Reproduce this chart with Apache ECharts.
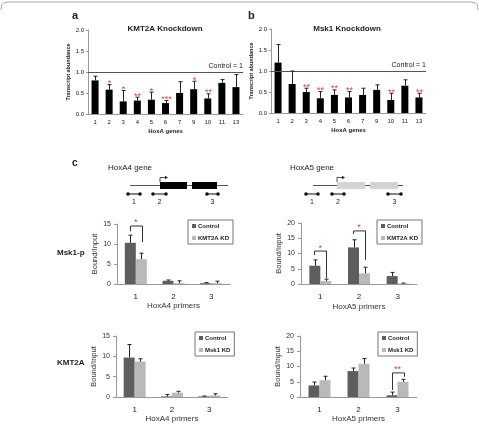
<!DOCTYPE html>
<html>
<head>
<meta charset="utf-8">
<script src="https://cdn.jsdelivr.net/npm/echarts@6/dist/echarts.min.js"></script>
<style>
  html, body { margin: 0; padding: 0; background: #fff; }
  #chart { width: 479px; height: 425px; }
</style>
</head>
<body>
<div id="chart"></div>
<script>
// panels a / b : HoxA genes
const hoxGenes = ['1', '2', '3', '4', '5', '6', '7', '9', '10', '11', '13'];
const kmtKdVal = [0.80, 0.58, 0.30, 0.32, 0.34, 0.26, 0.50, 0.59, 0.37, 0.74, 0.64];
const kmtKdErr = [0.10, 0.12, 0.26, 0.08, 0.18, 0.06, 0.27, 0.19, 0.11, 0.08, 0.30];
const kmtKdStars = ['', '*', '*', '**', '*', '***', '', '*', '**', '', ''];
const mskKdVal = [1.20, 0.69, 0.50, 0.35, 0.43, 0.37, 0.43, 0.55, 0.31, 0.65, 0.37];
const mskKdErr = [0.43, 0.31, 0.09, 0.16, 0.12, 0.14, 0.16, 0.12, 0.16, 0.14, 0.10];
const mskKdStars = ['', '', '**', '**', '**', '**', '', '', '**', '', '**'];

// panel c : ChIP primers
const primers = ['1', '2', '3'];
const p4Ctrl = [10.3, 0.8, 0.2];   const p4CtrlErr = [1.9, 0.2, 0.15];
const p4Kd = [6.2, 0.2, 0.2];      const p4KdErr = [1.5, 0.6, 0.5];
const p5Ctrl = [6.0, 12.0, 2.6];   const p5CtrlErr = [1.9, 2.5, 1.2];
const p5Kd = [1.0, 3.5, 0.2];      const p5KdErr = [0.6, 2.0, 0.1];
const k4Ctrl = [9.7, 0.15, 0.15];  const k4CtrlErr = [3.2, 0.45, 0.1];
const k4Kd = [8.7, 1.05, 0.4];     const k4KdErr = [0.7, 0.35, 0.4];
const k5Ctrl = [3.8, 8.5, 0.55];   const k5CtrlErr = [1.1, 1.0, 1.05];
const k5Kd = [5.5, 10.9, 5.0];     const k5KdErr = [1.3, 1.7, 0.8];

// brackets: [primer index, top, left leg end, right leg end]
const p4Sig = [[0, 14.5, 13.2, 10.5]];  const p4SigStars = ['*'];
const p5Sig = [[0, 10.8, 9.5, 2.0], [1, 17.4, 16.4, 7.9]];  const p5SigStars = ['*', '*'];
const k5Sig = [[2, 7.9, 2.3, 6.6]];     const k5SigStars = ['**'];

const ctrlColor = '#5e5e5e';
const kdColor = '#b9b9b9';
const starColor = '#e8403a';
const font = 'Liberation Sans';

var myChart = echarts.init(document.getElementById('chart'));

function errData(vals, errs) {
  return vals.map((v, i) => [i, v + errs[i], v]);
}

function errRender(offset, capW, stars) {
  return function (params, api) {
    let i = api.value(0);
    let top = api.coord([i, api.value(1)]);
    let base = api.coord([i, api.value(2)]);
    let x = Math.round(top[0] + offset) + 0.5;
    let children = [
      { type: 'line', shape: { x1: x, y1: base[1], x2: x, y2: top[1] }, style: { stroke: '#222', lineWidth: 1 } },
      { type: 'line', shape: { x1: x - capW / 2, y1: top[1], x2: x + capW / 2, y2: top[1] }, style: { stroke: '#222', lineWidth: 1 } }
    ];
    if (stars && stars[params.dataIndex]) {
      children.push({
        type: 'text', x: x, y: top[1] - 1,
        style: { text: stars[params.dataIndex], fill: starColor, fontSize: 9, fontFamily: font, align: 'center', verticalAlign: 'middle' }
      });
    }
    return { type: 'group', children: children };
  };
}

function bracketRender(stars) {
  return function (params, api) {
    let cat = api.value(0);
    let cx = api.coord([cat, 0])[0];
    let yTop = api.coord([cat, api.value(1)])[1];
    let yL = api.coord([cat, api.value(2)])[1];
    let yR = api.coord([cat, api.value(3)])[1];
    let xl = Math.round(cx - 6) + 0.5;
    let xr = Math.round(cx + 6) + 0.5;
    return {
      type: 'group',
      children: [
        { type: 'polyline', shape: { points: [[xl, yL], [xl, yTop], [xr, yTop], [xr, yR]] }, style: { stroke: '#333', lineWidth: 1, fill: null } },
        { type: 'text', x: cx, y: yTop - 3, style: { text: stars[params.dataIndex], fill: starColor, fontSize: 9, fontFamily: font, align: 'center', verticalAlign: 'middle' } }
      ]
    };
  };
}

function geneXAxis(gi) {
  return {
    gridIndex: gi, type: 'category', data: hoxGenes,
    axisLine: { lineStyle: { color: '#999' } },
    axisTick: { length: 2, lineStyle: { color: '#999' } },
    axisLabel: { fontSize: 6, color: '#222', margin: 5, interval: 0 },
    name: 'HoxA genes', nameLocation: 'middle', nameGap: 14,
    nameTextStyle: { fontSize: 6, fontWeight: 'bold', color: '#222' }
  };
}
function geneYAxis(gi) {
  return {
    gridIndex: gi, type: 'value', min: 0, max: 2, interval: 0.5,
    axisLine: { show: true, lineStyle: { color: '#999' } },
    axisTick: { show: true, length: 2, lineStyle: { color: '#999' } },
    splitLine: { show: false },
    axisLabel: { fontSize: 6, color: '#222', margin: 4, formatter: (v) => v.toFixed(1) },
    name: 'Transcript abundance', nameLocation: 'middle', nameGap: 13,
    nameTextStyle: { fontSize: 5.5, fontWeight: 'bold', color: '#222' }
  };
}
function primerXAxis(gi, name, gap) {
  return {
    gridIndex: gi, type: 'category', data: primers,
    axisLine: { lineStyle: { color: '#999' } },
    axisTick: { length: 3, lineStyle: { color: '#999' } },
    axisLabel: { fontSize: 8, color: '#222', margin: 9 },
    name: name, nameLocation: 'middle', nameGap: gap,
    nameTextStyle: { fontSize: 8, color: '#333' }
  };
}
function primerYAxis(gi, max) {
  return {
    gridIndex: gi, type: 'value', min: 0, max: max, interval: 5,
    axisLine: { show: true, lineStyle: { color: '#999' } },
    axisTick: { show: true, length: 3, lineStyle: { color: '#999' } },
    splitLine: { show: false },
    axisLabel: { fontSize: 7, color: '#333', margin: 6 },
    name: 'Bound/Input', nameLocation: 'middle', nameGap: 17,
    nameTextStyle: { fontSize: 7.5, color: '#333' }
  };
}

function controlLine() {
  return {
    silent: true, symbol: ['none', 'none'],
    data: [{ yAxis: 1 }],
    lineStyle: { color: '#555', type: 'solid', width: 1 },
    label: { position: 'insideEndTop', formatter: 'Control = 1', fontSize: 7, color: '#222', distance: [0, 2] }
  };
}

function legendAt(left, top, kdName) {
  return {
    left: left, top: top, orient: 'vertical', icon: 'rect',
    data: ['Control', kdName],
    itemWidth: 4, itemHeight: 4, itemGap: 6,
    borderColor: '#777', borderWidth: 1, padding: [3, 4, 3, 4],
    textStyle: { fontSize: 6, fontWeight: 'bold', color: '#222', padding: [0, 0, 0, -3] }
  };
}

function pairSeries(gi, ctrl, ctrlErr, kd, kdErr, kdName) {
  return [
    { type: 'bar', name: 'Control', xAxisIndex: gi, yAxisIndex: gi, data: ctrl, barWidth: 11, barGap: '0%', itemStyle: { color: ctrlColor } },
    { type: 'bar', name: kdName, xAxisIndex: gi, yAxisIndex: gi, data: kd, barWidth: 11, barGap: '0%', itemStyle: { color: kdColor } },
    { type: 'custom', xAxisIndex: gi, yAxisIndex: gi, data: errData(ctrl, ctrlErr), renderItem: errRender(-5.5, 4), z: 5 },
    { type: 'custom', xAxisIndex: gi, yAxisIndex: gi, data: errData(kd, kdErr), renderItem: errRender(5.5, 4), z: 5 }
  ];
}

function txt(x, y, s, size, weight, align) {
  return {
    type: 'text', x: x, y: y,
    style: { text: s, fontSize: size, fontWeight: weight || 'normal', fontFamily: font, fill: '#222', align: align || 'left', verticalAlign: 'middle' }
  };
}
function ln(x1, y1, x2, y2, color) {
  return { type: 'line', shape: { x1: x1, y1: y1, x2: x2, y2: y2 }, style: { stroke: color || '#444', lineWidth: 1 } };
}
function primerMark(x1, x2, y, label) {
  return [
    ln(x1, y, x2, y, '#111'),
    { type: 'circle', shape: { cx: x1, cy: y, r: 1.8 }, style: { fill: '#111' } },
    { type: 'circle', shape: { cx: x2, cy: y, r: 1.8 }, style: { fill: '#111' } },
    txt((x1 + x2) / 2, y + 8, label, 7, 'normal', 'center')
  ];
}
function gene(x1, x2, boxes, color, arrowX) {
  let els = [ln(x1, 185.5, x2, 185.5, '#555')];
  boxes.forEach((b) => els.push({ type: 'rect', shape: { x: b[0], y: 182, width: b[1] - b[0], height: 7 }, style: { fill: color } }));
  els.push({ type: 'polyline', shape: { points: [[arrowX, 182], [arrowX, 177.5], [arrowX + 6, 177.5]] }, style: { stroke: '#222', lineWidth: 0.8, fill: null } });
  els.push({ type: 'polygon', shape: { points: [[arrowX + 5, 175.8], [arrowX + 8, 177.5], [arrowX + 5, 179.2]] }, style: { fill: '#222' } });
  return els;
}

var graphics = [
  { type: 'polyline', shape: { points: [[1, 10], [1.5, 5], [3.5, 3], [8, 2], [471, 2], [475.5, 3], [477.5, 5], [478, 10]] }, style: { stroke: '#aaa', lineWidth: 1, fill: null } },
  txt(72, 16, 'a', 11, 'bold'),
  txt(248, 16, 'b', 11, 'bold'),
  txt(72, 163, 'c', 10, 'bold'),
  txt(165, 29, 'KMT2A Knockdown', 8, 'bold', 'center'),
  txt(347, 29, 'Msk1 Knockdown', 8, 'bold', 'center'),
  txt(108, 168, 'HoxA4 gene', 8, 'normal'),
  txt(290, 168, 'HoxA5 gene', 8, 'normal'),
  txt(57, 253, 'Msk1-p', 8, 'bold'),
  txt(57, 363, 'KMT2A', 8, 'bold')
];
graphics = graphics
  .concat(gene(130, 228, [[160, 187], [192, 217]], '#000', 160))
  .concat(gene(313, 403, [[337, 365], [370, 398]], '#d4d4d4', 337))
  .concat(primerMark(128, 140, 194, '1'), primerMark(153, 166, 194, '2'), primerMark(207, 218, 194, '3'))
  .concat(primerMark(306, 318, 194, '1'), primerMark(332, 344, 194, '2'), primerMark(388, 401, 194, '3'));

var option = {
  animation: false,
  textStyle: { fontFamily: font },
  grid: [
    { left: 88, top: 30, width: 155, height: 84 },
    { left: 271, top: 29, width: 155, height: 84 },
    { left: 117, top: 224, width: 113, height: 60 },
    { left: 301, top: 223, width: 116, height: 61 },
    { left: 116, top: 336, width: 112, height: 61 },
    { left: 300, top: 336, width: 117, height: 61 }
  ],
  xAxis: [
    geneXAxis(0), geneXAxis(1),
    primerXAxis(2, 'HoxA4 primers', 18), primerXAxis(3, 'HoxA5 primers', 19),
    primerXAxis(4, 'HoxA4 primers', 17), primerXAxis(5, 'HoxA5 primers', 18)
  ],
  yAxis: [
    geneYAxis(0), geneYAxis(1),
    primerYAxis(2, 15), primerYAxis(3, 20), primerYAxis(4, 15), primerYAxis(5, 20)
  ],
  legend: [
    legendAt(188, 220, 'KMT2A KD'),
    legendAt(377, 220, 'KMT2A KD'),
    legendAt(195, 332, 'Msk1 KD'),
    legendAt(378, 332, 'Msk1 KD')
  ],
  series: [
    { type: 'bar', name: 'KMT2A knockdown', xAxisIndex: 0, yAxisIndex: 0, data: kmtKdVal, barWidth: 7, itemStyle: { color: '#000' }, markLine: controlLine() },
    { type: 'custom', xAxisIndex: 0, yAxisIndex: 0, data: errData(kmtKdVal, kmtKdErr), renderItem: errRender(0, 4, kmtKdStars), z: 5 },
    { type: 'bar', name: 'Msk1 knockdown', xAxisIndex: 1, yAxisIndex: 1, data: mskKdVal, barWidth: 7, itemStyle: { color: '#000' }, markLine: controlLine() },
    { type: 'custom', xAxisIndex: 1, yAxisIndex: 1, data: errData(mskKdVal, mskKdErr), renderItem: errRender(0, 4, mskKdStars), z: 5 }
  ]
    .concat(pairSeries(2, p4Ctrl, p4CtrlErr, p4Kd, p4KdErr, 'KMT2A KD'))
    .concat(pairSeries(3, p5Ctrl, p5CtrlErr, p5Kd, p5KdErr, 'KMT2A KD'))
    .concat(pairSeries(4, k4Ctrl, k4CtrlErr, k4Kd, k4KdErr, 'Msk1 KD'))
    .concat(pairSeries(5, k5Ctrl, k5CtrlErr, k5Kd, k5KdErr, 'Msk1 KD'))
    .concat([
      { type: 'custom', xAxisIndex: 2, yAxisIndex: 2, data: p4Sig, renderItem: bracketRender(p4SigStars), z: 6 },
      { type: 'custom', xAxisIndex: 3, yAxisIndex: 3, data: p5Sig, renderItem: bracketRender(p5SigStars), z: 6 },
      { type: 'custom', xAxisIndex: 5, yAxisIndex: 5, data: k5Sig, renderItem: bracketRender(k5SigStars), z: 6 }
    ]),
  graphic: graphics
};

myChart.setOption(option);
</script>
</body>
</html>
